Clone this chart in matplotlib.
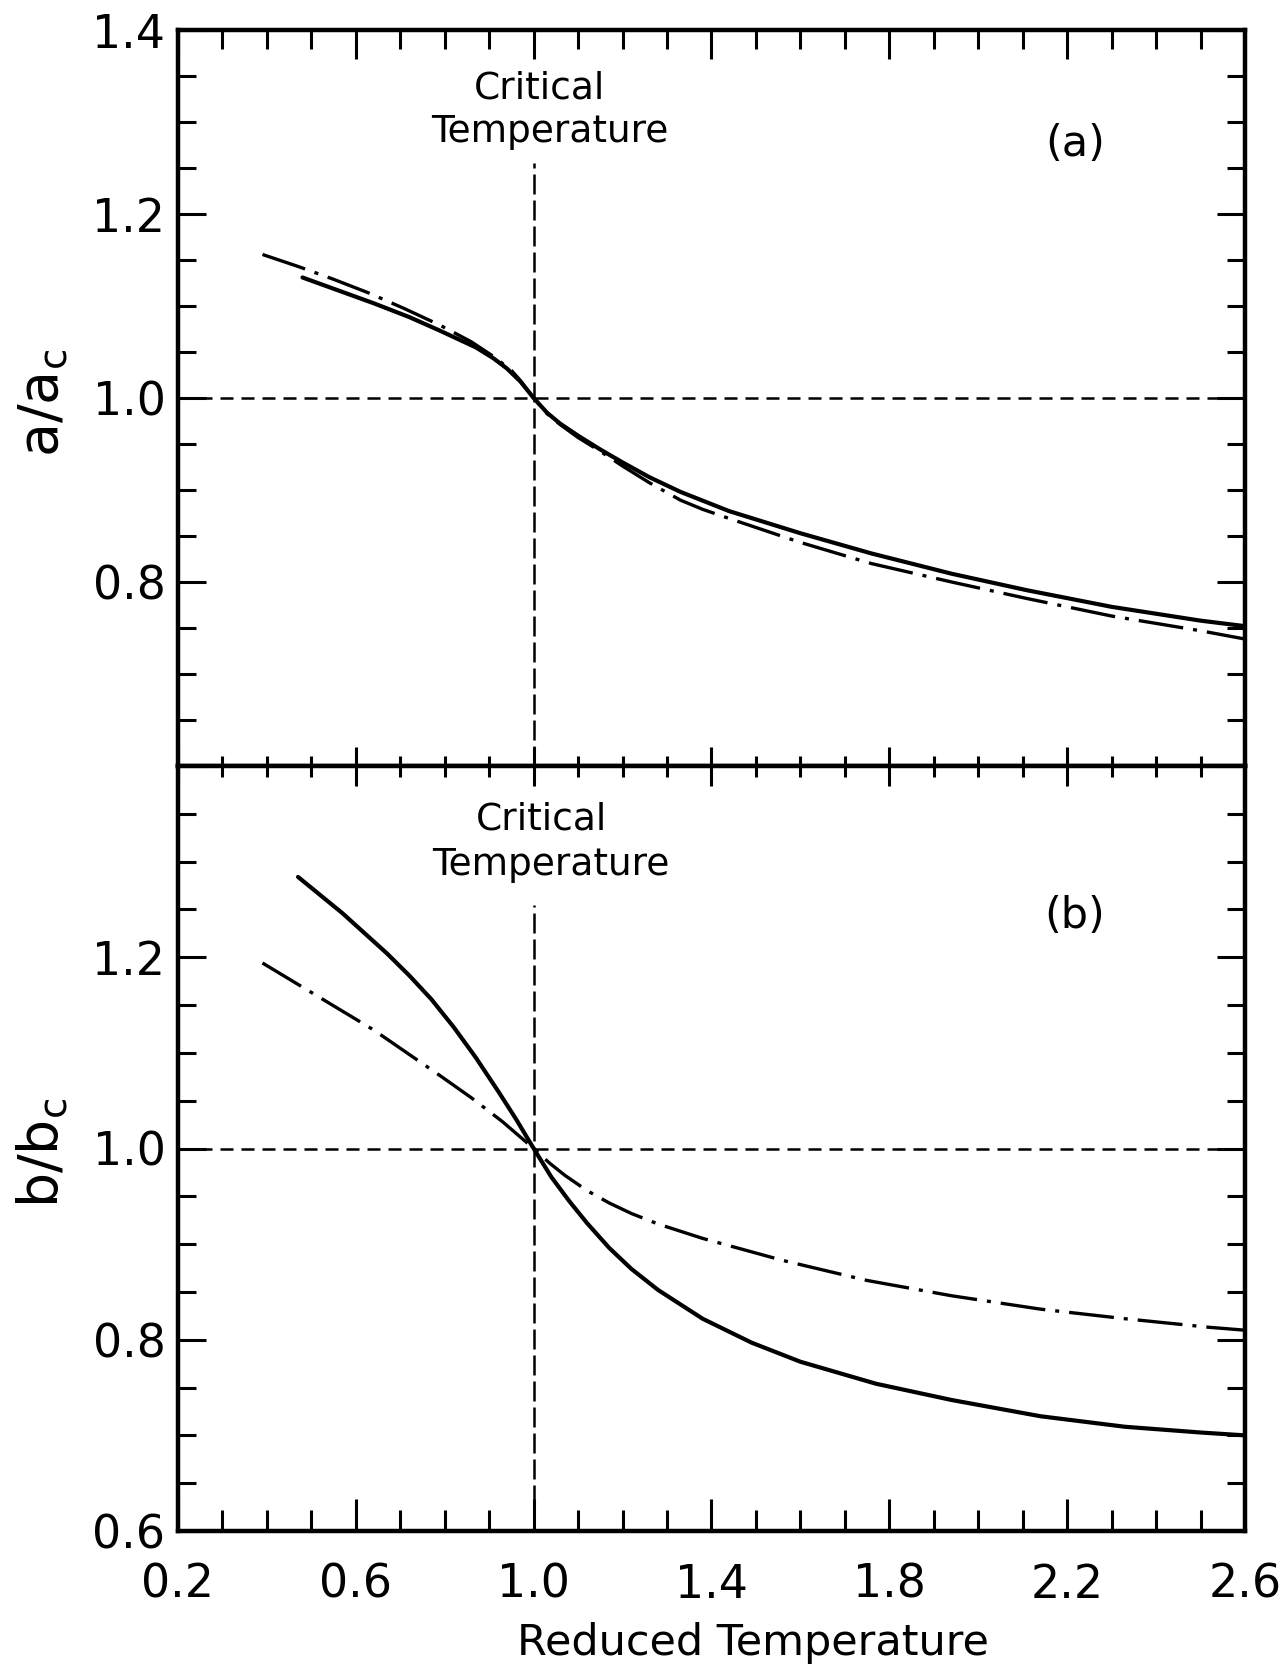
import matplotlib
matplotlib.use("Agg")
import matplotlib.pyplot as plt
from matplotlib.ticker import FixedLocator, MultipleLocator, NullFormatter

plt.rcParams['font.family'] = ['DejaVu Sans']
plt.rcParams['mathtext.default'] = 'regular'

# ---------------- data ----------------
# panel (a): a/a_c vs reduced temperature
a_solid_x = [0.48, 0.56, 0.64, 0.72, 0.79, 0.87, 0.91, 0.94, 0.97, 1.00, 1.03, 1.06, 1.10,
             1.15, 1.20, 1.26, 1.33, 1.44, 1.60, 1.76, 1.94, 2.11, 2.30, 2.50, 2.60]
a_solid_y = [1.131, 1.117, 1.103, 1.088, 1.073, 1.055, 1.043, 1.032, 1.018, 1.000, 0.984, 0.972, 0.959,
             0.944, 0.930, 0.914, 0.898, 0.877, 0.853, 0.831, 0.809, 0.791, 0.773, 0.758, 0.752]
a_dd_x = [0.39, 0.47, 0.55, 0.63, 0.71, 0.79, 0.86, 0.91, 0.95, 0.97, 1.00, 1.03, 1.06, 1.10,
          1.15, 1.20, 1.26, 1.33, 1.38, 1.44, 1.60, 1.76, 1.94, 2.11, 2.30, 2.50, 2.60]
a_dd_y = [1.156, 1.143, 1.129, 1.114, 1.097, 1.079, 1.061, 1.045, 1.030, 1.019, 1.000, 0.983, 0.971, 0.957,
          0.942, 0.926, 0.908, 0.889, 0.879, 0.869, 0.843, 0.820, 0.800, 0.782, 0.763, 0.747, 0.738]

# panel (b): b/b_c vs reduced temperature
b_solid_x = [0.47, 0.52, 0.57, 0.62, 0.67, 0.72, 0.77, 0.82, 0.87, 0.92, 0.96, 1.00, 1.04, 1.08,
             1.12, 1.17, 1.22, 1.28, 1.38, 1.49, 1.60, 1.77, 1.94, 2.14, 2.33, 2.50, 2.60]
b_solid_y = [1.284, 1.265, 1.246, 1.225, 1.204, 1.181, 1.156, 1.127, 1.095, 1.060, 1.031, 1.000, 0.970, 0.945,
             0.922, 0.896, 0.874, 0.852, 0.822, 0.797, 0.777, 0.754, 0.737, 0.720, 0.709, 0.703, 0.700]
b_dd_x = [0.39, 0.49, 0.64, 0.79, 0.86, 0.93, 1.00, 1.035, 1.07, 1.12, 1.17, 1.22, 1.28, 1.38,
          1.56, 1.75, 1.94, 2.14, 2.33, 2.52, 2.60]
b_dd_y = [1.194, 1.166, 1.124, 1.076, 1.053, 1.028, 1.000, 0.985, 0.972, 0.956, 0.943, 0.932, 0.921, 0.906,
          0.883, 0.862, 0.846, 0.832, 0.822, 0.813, 0.810]

x_ticks = [0.2, 0.6, 1.0, 1.4, 1.8, 2.2, 2.6]
x_ticklabels = ['0.2', '0.6', '1.0', '1.4', '1.8', '2.2', '2.6']
y_ticks = [0.6, 0.8, 1.0, 1.2, 1.4]
a_yticklabels = ['', '0.8', '1.0', '1.2', '1.4']
b_yticklabels = ['0.6', '0.8', '1.0', '1.2', '']
crit_T = 1.0
ref_ratio = 1.0
label_top = 'Critical'
label_bot = 'Temperature'

# ---------------- figure ----------------
W, H = 1284, 1670
fig = plt.figure(figsize=(W / 100, H / 100), dpi=100)
L, R = 178, 1245
top_a, mid, bot_b = 30, 766, 1531
ax1 = fig.add_axes([L / W, 1 - mid / H, (R - L) / W, (mid - top_a) / H])
ax2 = fig.add_axes([L / W, 1 - bot_b / H, (R - L) / W, (bot_b - mid) / H])

SPW = 3.2
SOLID_LW = 3.0
DD_LW = 2.4
GUIDE_LW = 1.8
dd_pattern = (13.5, 3.0, 1.2, 3.0)

for ax in (ax1, ax2):
    ax.set_xlim(0.2, 2.6)
    ax.set_ylim(0.6, 1.4)
    for s in ax.spines.values():
        s.set_linewidth(SPW)
    ax.xaxis.set_major_locator(FixedLocator(x_ticks))
    ax.xaxis.set_minor_locator(MultipleLocator(0.1))
    ax.set_yticks(y_ticks)
    ax.yaxis.set_minor_locator(MultipleLocator(0.05))
    ax.tick_params(axis='y', which='both', left=True, right=True, direction='in',
                   width=2.2, labelsize=33, pad=9)
    ax.tick_params(axis='y', which='major', length=20)
    ax.tick_params(axis='y', which='minor', length=13)
    # guide lines
    ax.axhline(ref_ratio, color='black', lw=GUIDE_LW, dashes=(5.2, 3.2), zorder=1)
    ax.plot([crit_T, crit_T], [0.6, 1.255], color='black', lw=GUIDE_LW,
            dashes=(8, 2.4), zorder=1)

ax1.set_yticklabels(a_yticklabels)
ax2.set_yticklabels(b_yticklabels)

# x ticks: top panel -> top side long, bottom (middle line) short
ax1.tick_params(axis='x', which='both', bottom=False, top=True, labelbottom=False,
                labeltop=False, direction='in', width=2.2)
ax1.tick_params(axis='x', which='major', length=21)
ax1.tick_params(axis='x', which='minor', length=13.7)
sec1 = ax1.secondary_xaxis('bottom')
sec1.xaxis.set_major_locator(FixedLocator(x_ticks))
sec1.xaxis.set_minor_locator(MultipleLocator(0.1))
sec1.xaxis.set_major_formatter(NullFormatter())
sec1.tick_params(axis='x', which='both', direction='in', width=2.2)
sec1.tick_params(axis='x', which='major', length=13.5)
sec1.tick_params(axis='x', which='minor', length=7)
sec1.spines['bottom'].set_visible(False)

ax2.tick_params(axis='x', which='both', bottom=True, top=False, direction='in',
                width=2.2, labelsize=33, pad=23)
ax2.tick_params(axis='x', which='major', length=23)
ax2.tick_params(axis='x', which='minor', length=15)
ax2.set_xticklabels(x_ticklabels)
sec2 = ax2.secondary_xaxis('top')
sec2.xaxis.set_major_locator(FixedLocator(x_ticks))
sec2.xaxis.set_minor_locator(MultipleLocator(0.1))
sec2.xaxis.set_major_formatter(NullFormatter())
sec2.tick_params(axis='x', which='both', direction='in', width=2.2)
sec2.tick_params(axis='x', which='major', length=14.5)
sec2.tick_params(axis='x', which='minor', length=8)
sec2.spines['top'].set_visible(False)

# curves
ax1.plot(a_solid_x, a_solid_y, color='black', lw=SOLID_LW, solid_capstyle='round',
         solid_joinstyle='round', zorder=3)
ax1.plot(a_dd_x, a_dd_y, color='black', lw=DD_LW, dashes=dd_pattern, zorder=3)
ax2.plot(b_solid_x, b_solid_y, color='black', lw=SOLID_LW, solid_capstyle='round',
         solid_joinstyle='round', zorder=3)
ax2.plot(b_dd_x, b_dd_y, color='black', lw=DD_LW, dashes=dd_pattern, zorder=3)

# annotations
ax1.text(1.013, 1.3256, label_top, ha='center', va='baseline', fontsize=27)
ax1.text(1.037, 1.2785, label_bot, ha='center', va='baseline', fontsize=27)
ax2.text(1.017, 1.3332, label_top, ha='center', va='baseline', fontsize=27)
ax2.text(1.039, 1.2862, label_bot, ha='center', va='baseline', fontsize=27)
ax1.text(2.217, 1.2763, '(a)', ha='center', va='center', fontsize=31)
ax2.text(2.217, 1.2433, '(b)', ha='center', va='center', fontsize=31)

# axis labels
ax1.set_ylabel(r'a/a$_{c}$', fontsize=40, va='center')
ax1.yaxis.set_label_coords(-0.127, 0.494)
ax2.set_ylabel(r'b/b$_{c}$', fontsize=40, va='center')
ax2.yaxis.set_label_coords(-0.127, 0.494)
ax2.set_xlabel('Reduced Temperature', fontsize=31, va='baseline')
ax2.xaxis.set_label_coords(0.539, -0.162)

fig.savefig('out.png', dpi=100)
